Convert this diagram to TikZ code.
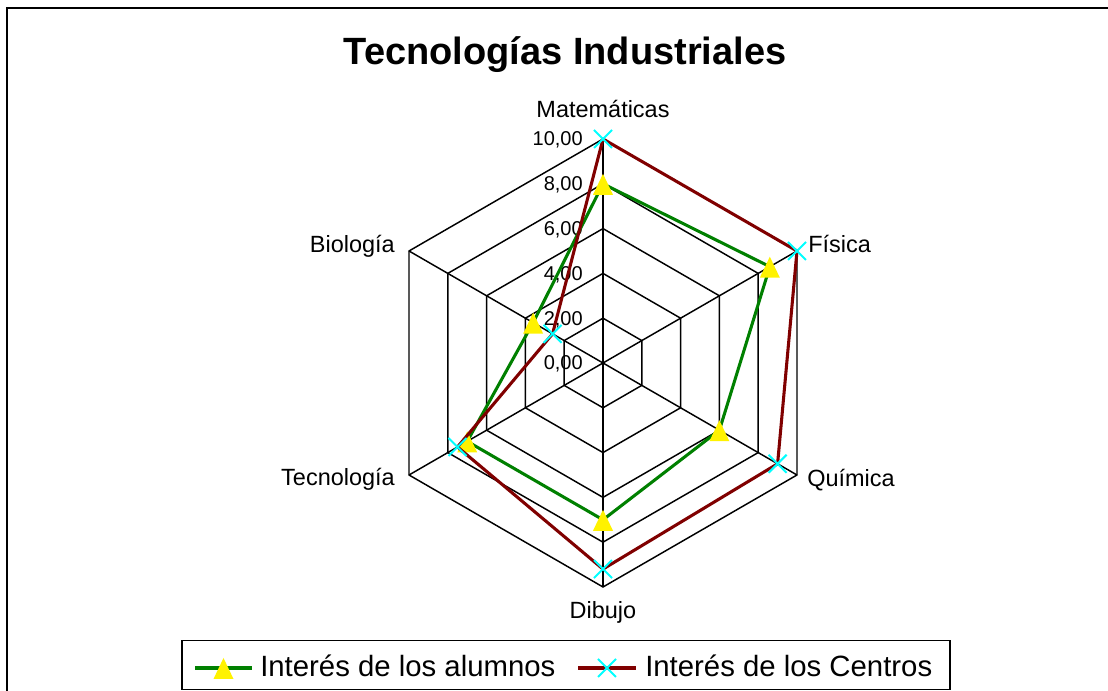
\documentclass[tikz,border=0pt]{standalone}
\usepackage{fontspec}
\setmainfont{Liberation Sans}
\usetikzlibrary{positioning,calc}

\definecolor{alumgreen}{RGB}{0,128,0}
\definecolor{centred}{RGB}{128,0,0}
\definecolor{markcyan}{RGB}{0,255,255}

\begin{document}
\begin{tikzpicture}[x=0.75pt, y=0.75pt,
  grid/.style={black, line width=1.1pt},
  alum/.style={alumgreen, line width=2.3pt, line join=round},
  cent/.style={centred, line width=2.3pt, line join=round},
  lbl/.style={font=\fontsize{17.6}{20}\selectfont, inner sep=0pt},
  num/.style={font=\fontsize{15}{17}\selectfont, inner sep=0pt, anchor=base east},
  tri/.pic={\fill[yellow] (-10,-11) -- (10,-11) -- (0,10) -- cycle;},
  cross/.pic={\draw[markcyan, line width=1.5pt] (-9,-9) -- (9,9) (-9,9) -- (9,-9);}]

\useasboundingbox (0,0) rectangle (1108,691);

% Chart frame (only top and left edge inside the picture)
\draw[line width=2.2pt] (7,0) -- (7,683) -- (1108,683);

% Title
\node[font=\bfseries\fontsize{28.5}{32}\selectfont, inner sep=0pt, anchor=base] (title) at (565,626) {Tecnologías Industriales};

% Radar axes
\coordinate (O) at (603,328);
\foreach \n/\a in {1/90,2/30,3/-30,4/-90,5/-150,6/150}
  \coordinate (v\n) at ($(O)+(\a:224)$);

% Hexagon grid, one ring per 2,00
\foreach \r in {0.2,0.4,0.6,0.8,1} {
  \draw[grid] ($(O)!\r!(v1)$) -- ($(O)!\r!(v2)$) -- ($(O)!\r!(v3)$)
    -- ($(O)!\r!(v4)$) -- ($(O)!\r!(v5)$) -- ($(O)!\r!(v6)$) -- cycle;
}
\foreach \n in {1,...,6}
  \draw[grid] (O) -- (v\n);

% Scale values
\foreach \r/\t in {0/{0,00},0.2/{2,00},0.4/{4,00},0.6/{6,00},0.8/{8,00},1/{10,00}}
  \node[num] at ($(O)!\r!(v1)+(-20,-7)$) {\t};

% Axis labels
\node[lbl, anchor=base] (lmat) at ($(v1)+(0,21)$) {Matemáticas};
\node[lbl, anchor=base west] (lfis) at ($(v2)+(11,-2)$) {Física};
\node[lbl, anchor=base west] (lqui) at ($(v3)+(10,-12)$) {Química};
\node[lbl, anchor=base] (ldib) at ($(v4)+(0,-32)$) {Dibujo};
\node[lbl, anchor=base east] (ltec) at ($(v5)+(-14,-11)$) {Tecnología};
\node[lbl, anchor=base east] (lbio) at ($(v6)+(-14,-2)$) {Biología};

% Data points
\foreach \n/\a/\v in {1/90/8.0,2/30/8.6,3/-30/6.0,4/-90/7.0,5/-150/7.0,6/150/3.6}
  \coordinate (a\n) at ($(O)+(\a:{\v*22.4})$);
\foreach \n/\a/\v in {1/90/10,2/30/10,3/-30/9.0,4/-90/9.2,5/-150/7.5,6/150/2.6}
  \coordinate (c\n) at ($(O)+(\a:{\v*22.4})$);

% Series lines and markers
\draw[alum] (a1) -- (a2) -- (a3) -- (a4) -- (a5) -- (a6) -- cycle;
\foreach \n in {1,...,6}
  \pic at (a\n) {tri};
\draw[cent] (c1) -- (c2) -- (c3) -- (c4) -- (c5) -- (c6) -- cycle;
\foreach \n in {1,...,6}
  \pic at (c\n) {cross};

% Legend
\node[draw, line width=1.1pt, minimum width=576pt, minimum height=37pt, inner sep=0pt] (legend) at (566,26) {};
\coordinate (g1) at (195,23);
\coordinate (g2) at (252,23);
\draw[alum] (g1) -- (g2);
\pic at ($(g1)!0.5!(g2)$) {tri};
\node[font=\fontsize{22}{24}\selectfont, inner sep=0pt, anchor=base west] (lalum) at (260,14) {Interés de los alumnos};
\coordinate (r1) at (578,23);
\coordinate (r2) at (636,23);
\draw[cent] (r1) -- (r2);
\pic at ($(r1)!0.5!(r2)$) {cross};
\node[font=\fontsize{22}{24}\selectfont, inner sep=0pt, anchor=base west] (lcent) at (645,14) {Interés de los Centros};

\end{tikzpicture}
\end{document}
